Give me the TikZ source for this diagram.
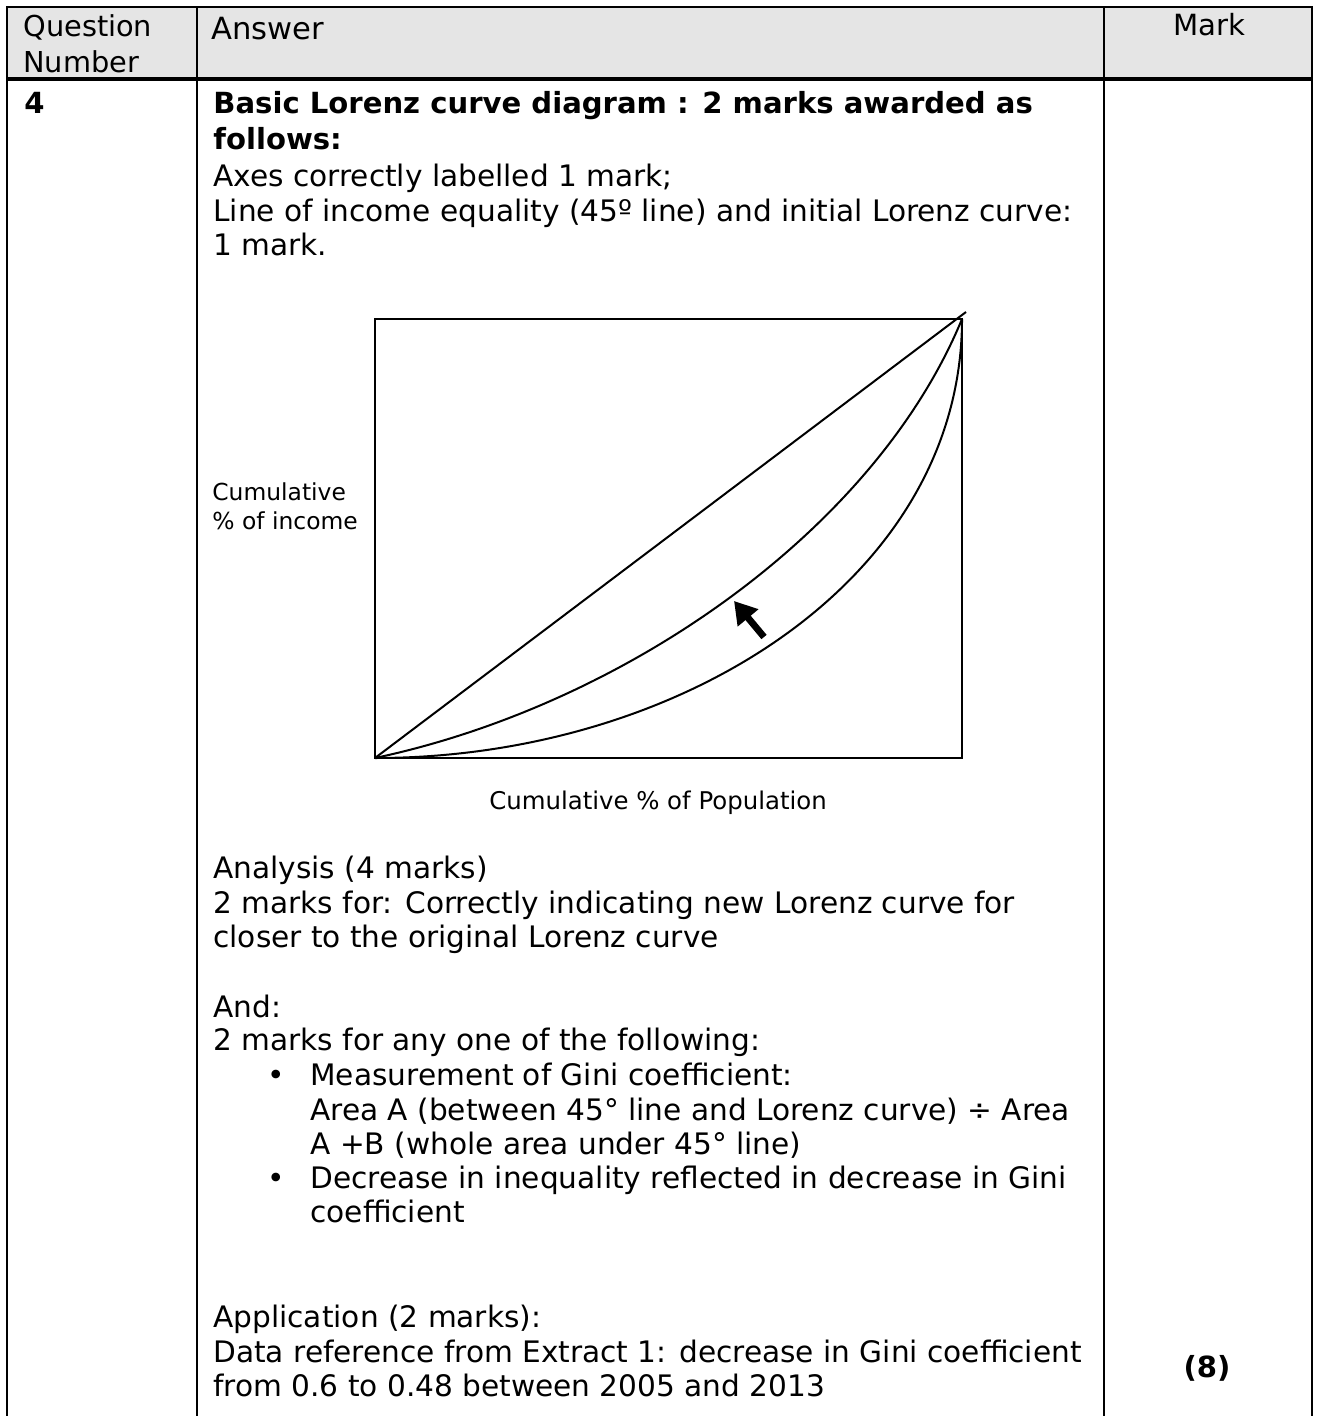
\documentclass[tikz,border=0pt]{standalone}
\usepackage{fontspec}
\setmainfont{DejaVu Sans}
\usetikzlibrary{arrows.meta}
\begin{document}
\begin{tikzpicture}[x=0.5pt,y=-0.5pt,
  txt/.style={anchor=base west, inner sep=0pt, font=\fontsize{14.8}{17}\selectfont},
  btxt/.style={anchor=base west, inner sep=0pt, font=\fontsize{14.55}{17}\selectfont\bfseries},
  htxt/.style={anchor=base west, inner sep=0pt, font=\fontsize{14.4}{17}\selectfont},
  ltxt/.style={anchor=base west, inner sep=0pt, font=\fontsize{11.7}{14}\selectfont},
  rule/.style={line width=1.4pt},
  curve/.style={line width=1pt}]
\useasboundingbox (0,0) rectangle (1318,1416);
% table
\fill[black!10] (7,7) rectangle (1312,79);
\draw[rule] (7,1416) -- (7,7) -- (1312,7) -- (1312,1416);
\draw[line width=1.7pt] (7,79) -- (1312,79);
\draw[rule] (197,7) -- (197,1416);
\draw[rule] (1104,7) -- (1104,1416);
% header
\node[htxt] (hq1) at (23,37) {Question};
\node[htxt] (hq2) at (23,73) {Number};
\node[anchor=base west, inner sep=0pt, font=\fontsize{15.3}{17}\selectfont] (ha) at (211,40) {Answer};
\node[anchor=base, inner sep=0pt, font=\fontsize{14.6}{17}\selectfont] (hm) at (1209,36) {Mark};
% row
\node[btxt] (qn) at (24,114) {4};
\node[btxt] (l1) at (213,114) {Basic Lorenz curve diagram : 2 marks awarded as};
\node[btxt] (l2) at (213,150) {follows:};
\node[txt] (l3) at (213,187) {Axes correctly labelled 1 mark;};
\node[txt] (l4) at (213,222) {Line of income equality (45º line) and initial Lorenz curve:};
\node[txt] (l5) at (213,256) {1 mark.};
% diagram
\coordinate (O) at (375,758);
\coordinate (T) at (962,319);
\coordinate (Tx) at (966,312);
\draw[line width=1.2pt] (375,319) rectangle (962,758);
\draw[curve] (O) -- (Tx);
\draw[curve] (O) .. controls (625,705) and (875,530) .. (T);
\draw[curve] (O) .. controls (680,758) and (962,580) .. (T);
\coordinate (atail) at (764,637);
\coordinate (atip) at (734,601);
\draw[line width=3.4pt, -{Triangle[length=11pt,width=12.8pt]}] (atail) -- (atip);
\node[ltxt] (yl1) at (212,501) {Cumulative};
\node[ltxt] (yl2) at (212,529) {\% of income};
\node[anchor=base, inner sep=0pt, font=\fontsize{12.2}{14}\selectfont] (xl) at (658,809) {Cumulative \% of Population};
% analysis
\node[txt] (a1) at (213,878) {Analysis (4 marks)};
\node[txt] (a2) at (213,913) {2 marks for: Correctly indicating new Lorenz curve for};
\node[txt] (a3) at (213,947) {closer to the original Lorenz curve};
\node[txt] (a4) at (213,1017) {And:};
\node[txt] (a5) at (213,1050) {2 marks for any one of the following:};
\node[txt] (b1) at (267,1085) {•};
\node[txt] (a6) at (310,1085) {Measurement of Gini coefficient:};
\node[txt] (a7) at (310,1120) {Area A (between 45° line and Lorenz curve) ÷ Area};
\node[txt] (a8) at (310,1154) {A +B (whole area under 45° line)};
\node[txt] (b2) at (267,1188) {•};
\node[txt] (a9) at (310,1188) {Decrease in inequality reflected in decrease in Gini};
\node[txt] (a10) at (310,1222) {coefficient};
\node[txt] (p1) at (213,1327) {Application (2 marks):};
\node[txt] (p2) at (213,1362) {Data reference from Extract 1: decrease in Gini coefficient};
\node[txt] (p3) at (213,1396) {from 0.6 to 0.48 between 2005 and 2013};
\node[anchor=base, inner sep=0pt, font=\fontsize{14.55}{17}\selectfont\bfseries] (mk) at (1207,1377) {(8)};
\end{tikzpicture}
\end{document}
